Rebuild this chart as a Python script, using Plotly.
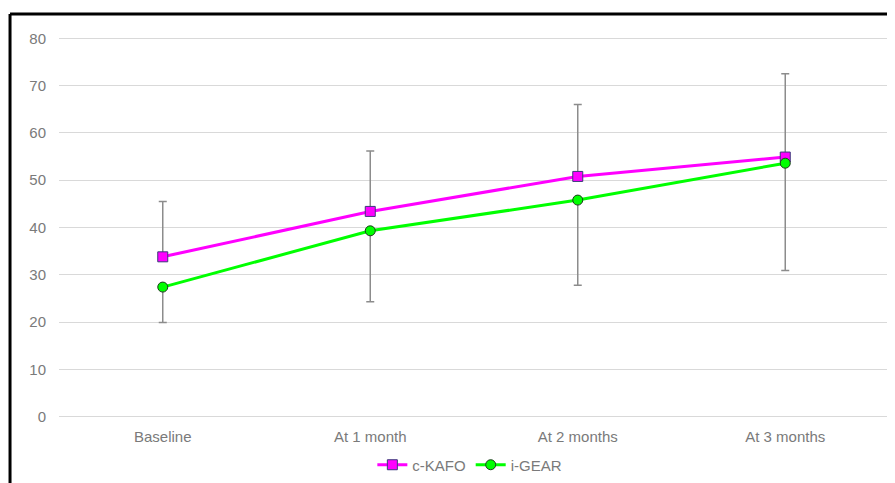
import plotly.graph_objects as go

categories = ["Baseline", "At 1 month", "At 2 months", "At 3 months"]
kafo_values = [33.8, 43.4, 50.8, 54.9]
gear_values = [27.4, 39.3, 45.8, 53.6]
kafo_err_upper = [11.7, 12.8, 15.2, 17.6]   # upper bar tops: 45.5, 56.2, 66.0, 72.5
gear_err_lower = [7.5, 15.0, 18.0, 22.7]    # lower bar ends: 19.9, 24.3, 27.8, 30.9
y_ticks = [0, 10, 20, 30, 40, 50, 60, 70, 80]

font_family = "Liberation Sans, Arial, sans-serif"
grey_text = "#7A7A7A"

fig = go.Figure()
fig.add_trace(go.Scatter(
    x=categories, y=kafo_values, name="c-KAFO", mode="lines+markers",
    line=dict(color="#FF00FF", width=3),
    marker=dict(symbol="square", size=10, color="#FF00FF",
                line=dict(color="#3A3A7A", width=1)),
    error_y=dict(type="data", symmetric=False, array=kafo_err_upper,
                 arrayminus=[0] * len(kafo_err_upper),
                 color="#8C8C8C", thickness=1.5, width=4),
))
fig.add_trace(go.Scatter(
    x=categories, y=gear_values, name="i-GEAR", mode="lines+markers",
    line=dict(color="#00FF00", width=3),
    marker=dict(symbol="circle", size=10, color="#00FF00",
                line=dict(color="#1E3A1E", width=1)),
    error_y=dict(type="data", symmetric=False, array=[0] * len(gear_err_lower),
                 arrayminus=gear_err_lower,
                 color="#8C8C8C", thickness=1.5, width=4),
))

fig.update_layout(
    width=887, height=475,
    margin=dict(l=51, r=6, t=28, b=64, autoexpand=False),
    paper_bgcolor="white", plot_bgcolor="white",
    font=dict(family=font_family, size=15, color=grey_text),
    showlegend=True,
    legend=dict(orientation="h", x=0.495, xanchor="center", y=-0.077, yanchor="top",
                font=dict(size=15, color=grey_text), itemwidth=30),
    xaxis=dict(type="category", range=[-0.5, 3.5], showgrid=False, showline=False,
               zeroline=False, ticks="", automargin=False, ticklabelstandoff=7,
               tickfont=dict(size=15, color=grey_text)),
    yaxis=dict(range=[-0.5, 80.5], tickvals=y_ticks, showgrid=True, gridcolor="#D9D9D9",
               gridwidth=1, zeroline=False, showline=False, ticks="", automargin=False,
               tickfont=dict(size=15, color=grey_text), ticklabelstandoff=12),
    shapes=[
        dict(type="line", xref="paper", yref="paper", x0=-0.059, x1=1.02,
             y0=1.0575, y1=1.0575, line=dict(color="black", width=3)),
        dict(type="line", xref="paper", yref="paper", x0=-0.059, x1=-0.059,
             y0=1.0575, y1=-0.2, line=dict(color="black", width=3)),
    ],
)

fig.write_html("out.html")
